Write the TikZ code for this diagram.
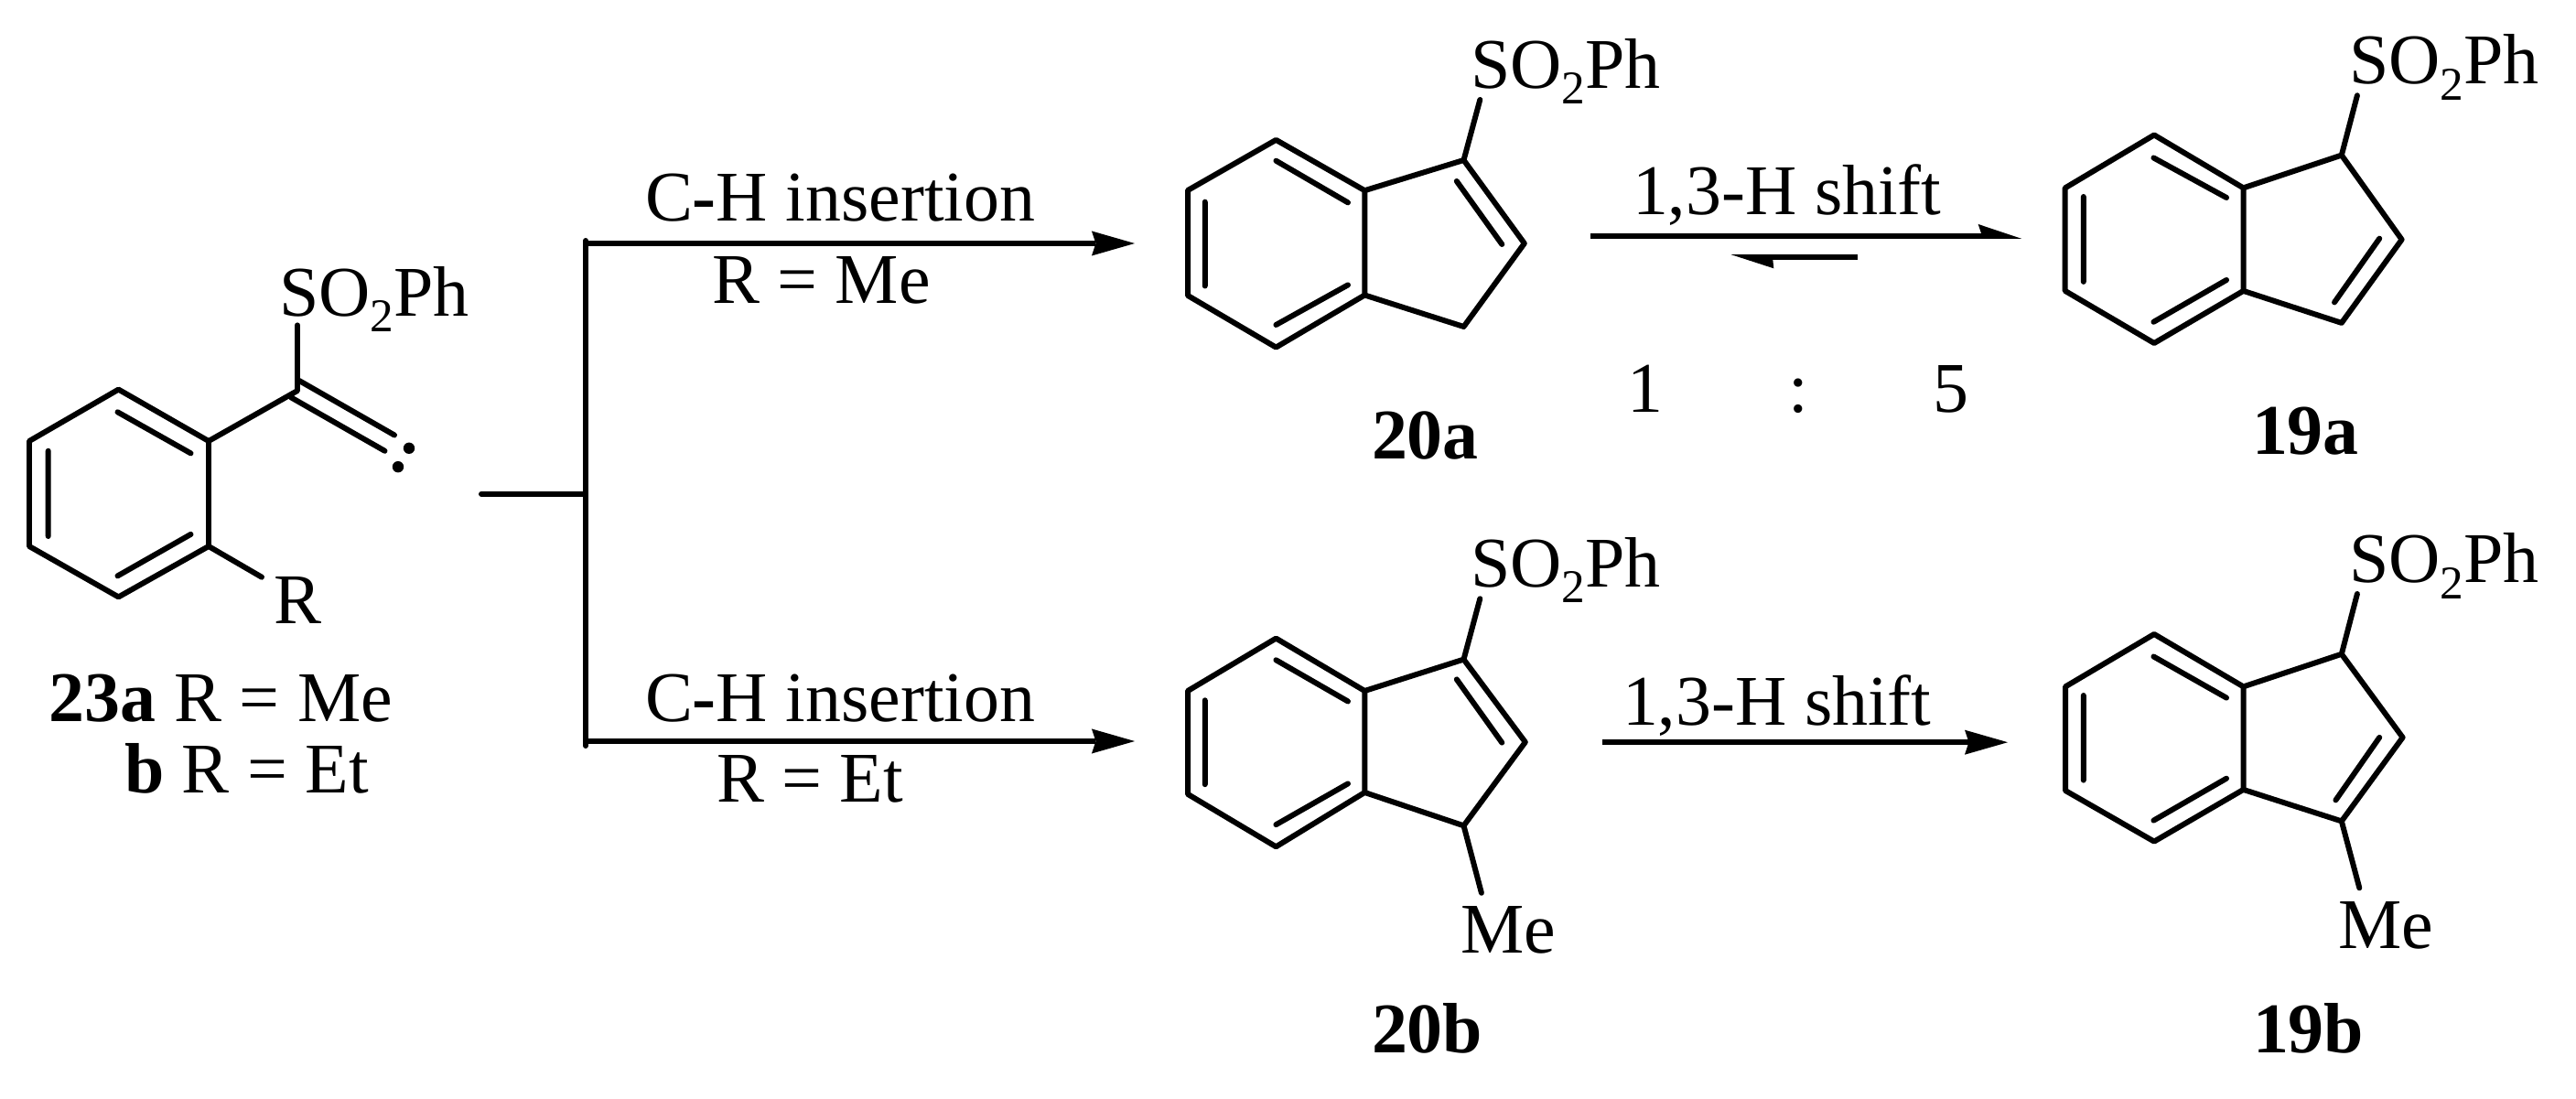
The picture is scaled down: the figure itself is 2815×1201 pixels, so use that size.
\documentclass[tikz,border=0pt]{standalone}
\usepackage{fontspec}
\setmainfont{Liberation Serif}
\usetikzlibrary{arrows.meta}
\newcommand{\SOtwoPh}{SO\raisebox{-0.22em}{\fontsize{14.6}{14.6}\selectfont 2}Ph}
\tikzset{
  bond/.style={line width=1.7pt,line cap=round,line join=round},
  rxn/.style={line width=1.75pt,line cap=butt},
  rxnarrow/.style={rxn,-{Stealth[length=0.47cm,width=0.27cm,inset=0.045cm,line width=0pt]}},
  lab/.style={anchor=base west,inner sep=0pt,outer sep=0pt,font=\fontsize{22.15}{24}\selectfont},
  atomdot/.style={fill=black,draw=none},
  headfill/.style={fill=black,draw=none}
}
\begin{document}
\begin{tikzpicture}[x=0.01cm,y=-0.01cm]
\useasboundingbox (0,0) rectangle (2815,1201);

% ---------- carbene 23
\coordinate (aT) at (129.5,425.6);\coordinate (aRT) at (228,482);\coordinate (aRB) at (228,597);
\coordinate (aB) at (129.5,652.4);\coordinate (aLB) at (32,597);\coordinate (aLT) at (32,482);
\coordinate (aC) at (325,427);\coordinate (aS) at (325,355.4);\coordinate (aR) at (286,630.7);
\coordinate (aD1s) at (327,416);\coordinate (aD1e) at (431,475.5);
\coordinate (aD2s) at (318,434.3);\coordinate (aD2e) at (420.5,492.8);
\draw[bond] (aT)--(aRT)--(aRB)--(aB)--(aLB)--(aLT)--cycle;
\draw[bond] (128.5,450.3)--(208.5,495.4) (52.7,492.8)--(52.7,586) (128.5,629.4)--(208.5,583.9);
\draw[bond] (aRT)--(aC)--(aS) (aRB)--(aR) (aD1s)--(aD1e) (aD2s)--(aD2e);
\fill[atomdot] (447,489.8) circle (6.2);
\fill[atomdot] (435,510.2) circle (6.2);
\node[lab] (aSO) at (305,345.4) {\SOtwoPh};
\node[lab] (aRl) at (299,681.5) {R};
\node[lab] (l23a) at (54,789) {\textbf{23a} R = Me};
\node[lab] (l23b) at (136,866.7) {\textbf{b} R = Et};

% ---------- branching connector
\coordinate (brS) at (526,539.7);\coordinate (brM) at (640,539.7);
\coordinate (brT) at (640,263);\coordinate (brB) at (640,815);
\coordinate (brTa) at (640,266);\coordinate (brBa) at (640,810);
\coordinate (tipA) at (1240,266);\coordinate (tipB) at (1240,810);
\draw[bond] (brS)--(brM) (brT)--(brB);
\draw[rxnarrow] (brTa)--(tipA);
\draw[rxnarrow] (brBa)--(tipB);
\node[lab] (ins1) at (705,242) {C\textbf{-}H insertion};
\node[lab] (rme) at (778,332) {R = Me};
\node[lab] (ins2) at (705,788.8) {C\textbf{-}H insertion};
\node[lab] (ret) at (783,877) {R = Et};

% ---------- 20a
\coordinate (bT) at (1394.4,152.9);\coordinate (bRT) at (1491.3,208.2);\coordinate (bRB) at (1491.3,322.5);
\coordinate (bB) at (1394.4,379.6);\coordinate (bLB) at (1298,323);\coordinate (bLT) at (1298,208);
\coordinate (bC1) at (1599.5,175);\coordinate (bC2) at (1665.8,266);\coordinate (bC3) at (1599.5,357);
\coordinate (bS) at (1617.3,109);
\draw[bond] (bT)--(bRT)--(bRB)--(bB)--(bLB)--(bLT)--cycle;
\draw[bond] (bRT)--(bC1)--(bC2)--(bC3)--(bRB) (bC1)--(bS);
\draw[bond] (1394.4,175.7)--(1473,221.4) (1316.8,220.7)--(1316.8,312.5) (1394.4,355)--(1473,311.4) (1591.8,198)--(1641.3,267);
\node[lab] (bSO) at (1607,96.4) {\SOtwoPh};
\node[lab] (l20a) at (1499,501.8) {\textbf{20a}};

% ---------- equilibrium arrows
\coordinate (eqS) at (1738,258);\coordinate (eqE) at (2168,258);
\coordinate (eqS2) at (2030,281);\coordinate (eqE2) at (1932,281);
\draw[rxn] (eqS)--(eqE);
\fill[headfill] (2209,260.8)--(2161.7,245)--(2165,255)--(2165,260.8)--cycle;
\draw[rxn] (eqS2)--(eqE2);
\fill[headfill] (1891.7,278.2)--(1938.3,293.3)--(1936.7,278.2)--cycle;
\node[lab] (sh1) at (1784,235) {1,3-H shift};
\node[lab] (r1) at (1778,450.7) {1};
\node[lab] (rc) at (1954,450.7) {:};
\node[lab] (r5) at (2112,450.7) {5};

% ---------- 19a
\coordinate (cT) at (2354,147.5);\coordinate (cRT) at (2451.5,205.4);\coordinate (cRB) at (2451.5,317.9);
\coordinate (cB) at (2354,375);\coordinate (cLB) at (2256.7,317.9);\coordinate (cLT) at (2256.7,205.4);
\coordinate (cC1) at (2558.8,169.6);\coordinate (cC2) at (2624.6,261.8);\coordinate (cC3) at (2558.8,352.9);
\coordinate (cS) at (2575.9,104.3);
\draw[bond] (cT)--(cRT)--(cRB)--(cB)--(cLB)--(cLT)--cycle;
\draw[bond] (cRT)--(cC1)--(cC2)--(cC3)--(cRB) (cC1)--(cS);
\draw[bond] (2353.4,172.5)--(2433,216) (2276.8,215)--(2276.8,307.9) (2353.4,351.8)--(2433,306) (2600.2,260.7)--(2551,330.4);
\node[lab] (cSO) at (2567,92) {\SOtwoPh};
\node[lab] (l19a) at (2461,496.4) {\textbf{19a}};

% ---------- 20b
\coordinate (dT) at (1394.4,697.6);\coordinate (dRT) at (1491.3,755);\coordinate (dRB) at (1491.3,866);
\coordinate (dB) at (1394.4,925.3);\coordinate (dLB) at (1298,867.9);\coordinate (dLT) at (1298,755);
\coordinate (dC1) at (1599.5,720.6);\coordinate (dC2) at (1666.8,811);\coordinate (dC3) at (1599.5,902.3);
\coordinate (dS) at (1617.3,654.3);\coordinate (dM) at (1618.9,975.8);
\draw[bond] (dT)--(dRT)--(dRB)--(dB)--(dLB)--(dLT)--cycle;
\draw[bond] (dRT)--(dC1)--(dC2)--(dC3)--(dRB) (dC1)--(dS) (dC3)--(dM);
\draw[bond] (1394.4,721.3)--(1473,766.5) (1316.8,765.3)--(1316.8,857.2) (1394.4,901.2)--(1473,856.4) (1591.8,742.4)--(1641.3,811.6);
\node[lab] (dSO) at (1607,641.3) {\SOtwoPh};
\node[lab] (dMe) at (1596,1041) {Me};
\node[lab] (l20b) at (1499,1150) {\textbf{20b}};

% ---------- lower shift arrow
\coordinate (lowS) at (1751,811.2);\coordinate (lowE) at (2194,811.2);
\draw[rxnarrow] (lowS)--(lowE);
\node[lab] (sh2) at (1773,793) {1,3-H shift};

% ---------- 19b
\coordinate (eT) at (2354,693);\coordinate (eRT) at (2451.5,750.4);\coordinate (eRB) at (2451.5,862.9);
\coordinate (eB) at (2354,919.6);\coordinate (eLB) at (2257,864);\coordinate (eLT) at (2257,750.4);
\coordinate (eC1) at (2558.8,714.8);\coordinate (eC2) at (2625.6,805.9);\coordinate (eC3) at (2558.8,897.4);
\coordinate (eS) at (2575.9,649);\coordinate (eM) at (2578.3,970.4);
\draw[bond] (eT)--(eRT)--(eRB)--(eB)--(eLB)--(eLT)--cycle;
\draw[bond] (eRT)--(eC1)--(eC2)--(eC3)--(eRB) (eC1)--(eS) (eC3)--(eM);
\draw[bond] (2353.4,717.5)--(2433,762.6) (2276.8,760)--(2276.8,852.6) (2353.4,896.6)--(2433,850.7) (2600.2,805.9)--(2552.4,874.4);
\node[lab] (eSO) at (2567,637) {\SOtwoPh};
\node[lab] (eMe) at (2555,1036) {Me};
\node[lab] (l19b) at (2462,1150) {\textbf{19b}};
\end{tikzpicture}
\end{document}
